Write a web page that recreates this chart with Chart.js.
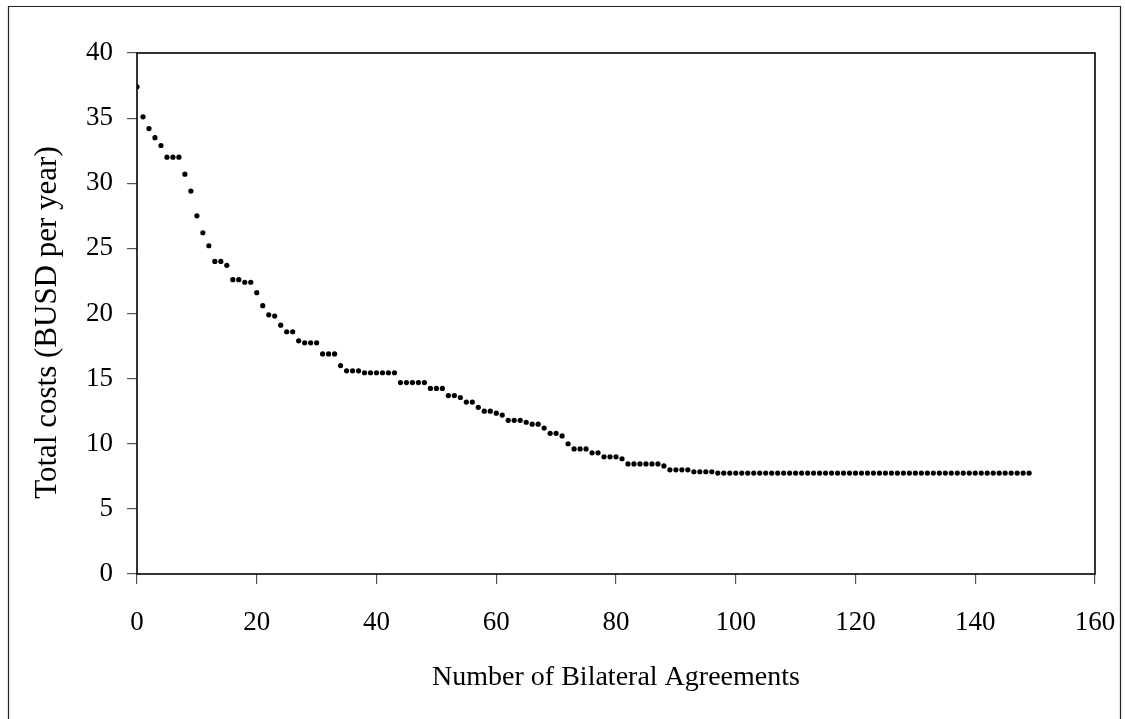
<!DOCTYPE html>
<html>
<head>
<meta charset="utf-8">
<script src="https://cdn.jsdelivr.net/npm/chart.js@4/dist/chart.umd.min.js"></script>
<style>
  html, body { margin: 0; padding: 0; background: #ffffff; }
  canvas { display: block; }
</style>
</head>
<body>
<canvas id="c" width="1125" height="719"></canvas>
<script>
// Total costs (BUSD per year) after each number of bilateral agreements (index = number of agreements)
const totalCosts = [
  37.4, 35.1, 34.2, 33.5, 32.9, 32.0, 32.0, 32.0, 30.7, 29.4,
  27.5, 26.2, 25.2, 24.0, 24.0, 23.7, 22.6, 22.6, 22.4, 22.4,
  21.6, 20.6, 19.9, 19.8, 19.1, 18.6, 18.6, 17.9, 17.75, 17.75,
  17.75, 16.9, 16.9, 16.9, 16.0, 15.6, 15.6, 15.6, 15.45, 15.45,
  15.45, 15.45, 15.45, 15.45, 14.7, 14.7, 14.7, 14.7, 14.7, 14.25,
  14.25, 14.25, 13.7, 13.7, 13.55, 13.2, 13.2, 12.8, 12.5, 12.5,
  12.35, 12.2, 11.8, 11.8, 11.8, 11.65, 11.5, 11.5, 11.2, 10.8,
  10.8, 10.6, 10.0, 9.6, 9.6, 9.6, 9.3, 9.3, 9.0, 9.0,
  9.0, 8.85, 8.45, 8.45, 8.45, 8.45, 8.45, 8.45, 8.3, 8.0,
  8.0, 8.0, 8.0, 7.85, 7.85, 7.85, 7.85, 7.75, 7.75, 7.75,
  7.75, 7.75, 7.75, 7.75, 7.75, 7.75, 7.75, 7.75, 7.75, 7.75,
  7.75, 7.75, 7.75, 7.75, 7.75, 7.75, 7.75, 7.75, 7.75, 7.75,
  7.75, 7.75, 7.75, 7.75, 7.75, 7.75, 7.75, 7.75, 7.75, 7.75,
  7.75, 7.75, 7.75, 7.75, 7.75, 7.75, 7.75, 7.75, 7.75, 7.75,
  7.75, 7.75, 7.75, 7.75, 7.75, 7.75, 7.75, 7.75, 7.75, 7.75
];
const xTicks = [0, 20, 40, 60, 80, 100, 120, 140, 160];
const yTicks = [0, 5, 10, 15, 20, 25, 30, 35, 40];
const xTitle = 'Number of Bilateral Agreements';
const yTitle = 'Total costs (BUSD per year)';

const points = totalCosts.map((v, i) => ({ x: i, y: v }));

const serif = '"Liberation Serif", "Times New Roman", serif';

const frame = {
  id: 'frame',
  beforeDraw(chart) {
    const ctx = chart.ctx;
    ctx.save();
    ctx.fillStyle = '#ffffff';
    ctx.fillRect(0, 0, chart.width, chart.height);
    ctx.strokeStyle = '#222222';
    ctx.lineWidth = 1.2;
    ctx.beginPath();
    ctx.moveTo(8.5, chart.height + 2);
    ctx.lineTo(8.5, 6.5);
    ctx.lineTo(1120.5, 6.5);
    ctx.lineTo(1120.5, chart.height + 2);
    ctx.stroke();
    ctx.restore();
  },
  afterDatasetsDraw(chart) {
    const a = chart.chartArea;
    const ctx = chart.ctx;
    ctx.save();
    ctx.strokeStyle = '#000000';
    ctx.lineWidth = 1.6;
    ctx.strokeRect(a.left, a.top, a.right - a.left, a.bottom - a.top);
    ctx.restore();
  },
  afterDraw(chart) {
    // vertical axis title, slightly below the plot centre as in the reference
    const ctx = chart.ctx;
    const a = chart.chartArea;
    ctx.save();
    ctx.fillStyle = '#000000';
    ctx.font = '31px ' + serif;
    ctx.textAlign = 'center';
    ctx.textBaseline = 'middle';
    ctx.translate(48, (a.top + a.bottom) / 2 + 9);
    ctx.rotate(-Math.PI / 2);
    ctx.fillText(yTitle, 0, 0);
    ctx.restore();
  }
};

new Chart(document.getElementById('c'), {
  type: 'scatter',
  data: {
    datasets: [{
      data: points,
      backgroundColor: '#000000',
      borderWidth: 0,
      pointRadius: 2.6,
      pointHoverRadius: 2.6
    }]
  },
  options: {
    responsive: false,
    animation: false,
    events: [],
    layout: { padding: { top: 53, right: 30, left: 0, bottom: 0 } },
    plugins: { legend: { display: false }, tooltip: { enabled: false } },
    scales: {
      x: {
        type: 'linear',
        min: 0, max: 160,
        afterBuildTicks: s => { s.ticks = xTicks.map(v => ({ value: v })); },
        afterFit: s => { s.height = 145; s.paddingRight = 0; s.paddingLeft = 0; },
        border: { display: false },
        grid: { drawOnChartArea: false, tickLength: 10, color: '#555555', lineWidth: 1.2 },
        ticks: { color: '#000000', padding: 23, maxRotation: 0, font: { family: serif, size: 27, lineHeight: 1.2 } },
        title: {
          display: true, text: xTitle, color: '#000000',
          font: { family: serif, size: 28, lineHeight: 1.2 },
          padding: { top: 0, bottom: 25 }
        }
      },
      y: {
        type: 'linear',
        min: 0, max: 40,
        afterBuildTicks: s => { s.ticks = yTicks.map(v => ({ value: v })); },
        afterFit: s => { s.width = 137; s.paddingTop = 0; s.paddingBottom = 0; },
        border: { display: false },
        grid: { drawOnChartArea: false, tickLength: 10, color: '#555555', lineWidth: 1.2 },
        ticks: { color: '#000000', padding: 14, font: { family: serif, size: 27, lineHeight: 1.2 } },
        title: { display: false }
      }
    }
  },
  plugins: [frame]
});
</script>
</body>
</html>
